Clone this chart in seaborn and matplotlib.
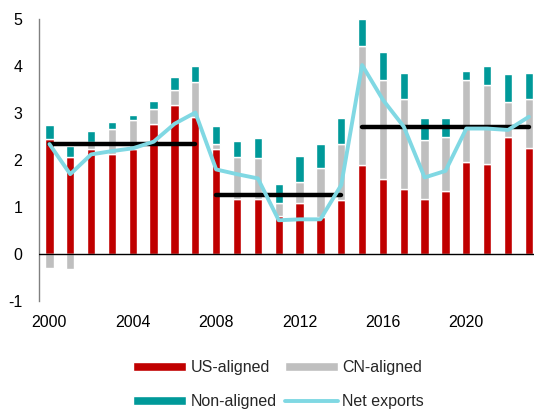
import matplotlib
matplotlib.use('Agg')
import matplotlib.pyplot as plt
import seaborn as sns
import numpy as np
import pandas as pd

years = list(range(2000, 2024))
us_aligned = [2.45, 2.07, 2.23, 2.13, 2.23, 2.77, 3.18, 2.92, 2.23, 1.18, 1.17, 0.81,
              1.08, 0.78, 1.15, 1.89, 1.60, 1.38, 1.17, 1.34, 1.96, 1.91, 2.48, 2.26]
cn_aligned = [-0.30, -0.31, 0.16, 0.53, 0.62, 0.31, 0.30, 0.73, 0.11, 0.89, 0.88, 0.28,
              0.45, 1.06, 1.20, 2.54, 2.11, 1.92, 1.26, 1.16, 1.74, 1.69, 0.76, 1.04]
non_aligned = [0.29, 0.23, 0.22, 0.14, 0.11, 0.18, 0.29, 0.35, 0.38, 0.33, 0.42, 0.40,
               0.56, 0.51, 0.54, 0.57, 0.58, 0.56, 0.47, 0.40, 0.20, 0.40, 0.59, 0.56]
net_exports = [2.34, 1.70, 2.12, 2.19, 2.25, 2.39, 2.77, 3.01, 1.80, 1.70, 1.61, 0.72,
               0.74, 0.74, 1.47, 4.02, 3.28, 2.71, 1.63, 1.77, 2.67, 2.67, 2.64, 2.92]
# period averages (start year, end year, level)
periods = [(2000, 2007, 2.34), (2008, 2014, 1.25), (2015, 2023, 2.70)]

df = pd.DataFrame({'year': years, 'US-aligned': us_aligned, 'CN-aligned': cn_aligned,
                   'Non-aligned': non_aligned, 'Net exports': net_exports})

sns.set_style('white')
plt.rcParams['font.family'] = ['Liberation Sans', 'DejaVu Sans']
plt.rcParams['axes.unicode_minus'] = False

colors = {'US-aligned': '#C00000', 'CN-aligned': '#BFBFBF', 'Non-aligned': '#009999'}

fig = plt.figure(figsize=(5.34, 4.12), dpi=100)
ax = fig.add_axes([0.073, 0.269, 0.933, 0.685])

# stacked bars, positives and negatives stacked separately
pos_base = np.zeros(len(df))
neg_base = np.zeros(len(df))
for name in ['US-aligned', 'CN-aligned', 'Non-aligned']:
    vals = df[name].values
    bottom = np.where(vals >= 0, pos_base, neg_base)
    ax.bar(df['year'], vals, bottom=bottom, width=0.4, color=colors[name], label=name, zorder=2)
    pos_base = pos_base + np.clip(vals, 0, None)
    neg_base = neg_base + np.clip(vals, None, 0)

sns.lineplot(data=df, x='year', y='Net exports', color='#80D8E3', lw=2.8, ax=ax,
             label='Net exports', zorder=4)

for start, end, level in periods:
    ax.plot([start, end], [level, level], color='black', lw=3.2, solid_capstyle='round', zorder=3)

ax.axhline(0, color='black', lw=1, zorder=3)

ax.set_xlim(1999.5, 2023.4)
ax.set_ylim(-1, 5)
ax.set_xticks(range(2000, 2024, 4))
ax.set_yticks(range(-1, 6))
ax.set_xlabel('')
ax.set_ylabel('')
ax.tick_params(labelsize=11.5, length=0, colors='black')
ax.tick_params(axis='y', pad=12)
ax.tick_params(axis='x', pad=10)
for s in ['top', 'right', 'bottom']:
    ax.spines[s].set_visible(False)
ax.spines['left'].set_color('#808080')
ax.spines['left'].set_linewidth(1)

handles, labels = ax.get_legend_handles_labels()
# legend fills column-first, so list items to read row by row
order = ['US-aligned', 'Non-aligned', 'CN-aligned', 'Net exports']
h = [handles[labels.index(l)] for l in order]
if ax.get_legend():
    ax.get_legend().remove()
fig.legend(h, order, loc='center', bbox_to_anchor=(0.522, 0.066), ncol=2, frameon=False,
           fontsize=11.5, handlelength=3.3, handleheight=0.5, handletextpad=0.3,
           columnspacing=0.5, labelspacing=1.2)

fig.savefig('out.png', dpi=100)
